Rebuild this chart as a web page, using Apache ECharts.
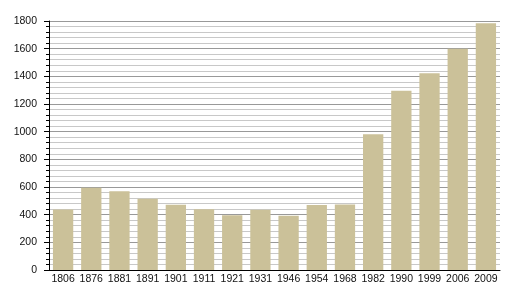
<!DOCTYPE html>
<html>
<head>
<meta charset="utf-8">
<script src="https://cdn.jsdelivr.net/npm/echarts@6/dist/echarts.min.js"></script>
<style>
html,body{margin:0;padding:0;background:#fff;}
#chart{width:508px;height:300px;}
</style>
</head>
<body>
<div id="chart"></div>
<script>
var years = ['1806','1876','1881','1891','1901','1911','1921','1931','1946','1954','1968','1982','1990','1999','2006','2009'];
var population = [437, 595, 570, 515, 471, 440, 395, 435, 392, 469, 474, 982, 1295, 1422, 1600, 1783];
var yTicks = [0, 200, 400, 600, 800, 1000, 1200, 1400, 1600, 1800];

var chart = echarts.init(document.getElementById('chart'), null, {renderer: 'canvas'});
chart.setOption({
  animation: false,
  grid: {left: 49, right: 8, top: 21, bottom: 30, containLabel: false},
  xAxis: {
    type: 'category',
    data: years,
    axisLine: {show: true, lineStyle: {color: '#000', width: 1}},
    axisTick: {show: false},
    axisLabel: {color: '#111', fontSize: 10.5, fontFamily: 'Liberation Sans, Arial, sans-serif', margin: 4, interval: 0}
  },
  yAxis: {
    type: 'value',
    min: yTicks[0],
    max: yTicks[yTicks.length - 1],
    interval: 200,
    axisLine: {show: true, lineStyle: {color: '#000', width: 1}},
    axisTick: {show: true, length: 5, lineStyle: {color: '#000'}},
    minorTick: {show: true, splitNumber: 5, length: 3, lineStyle: {color: '#000'}},
    axisLabel: {color: '#111', fontSize: 10.5, fontFamily: 'Liberation Sans, Arial, sans-serif', margin: 12,
      formatter: function (v) { return String(v); }},
    splitLine: {show: true, lineStyle: {color: '#999', width: 1}},
    minorSplitLine: {show: true, lineStyle: {color: '#c8c8c8', width: 1}}
  },
  series: [{
    type: 'bar',
    data: population,
    barCategoryGap: '28%',
    itemStyle: {color: '#cbc199'}
  }]
});
</script>
</body>
</html>
